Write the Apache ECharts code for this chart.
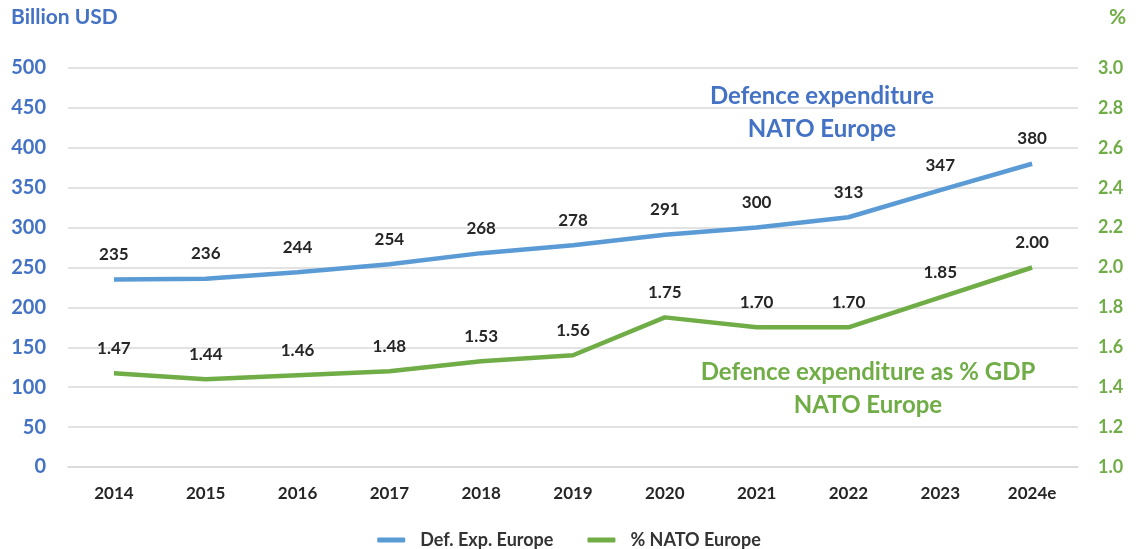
<!DOCTYPE html>
<html><head><meta charset="utf-8">
<script src="https://cdn.jsdelivr.net/npm/echarts@6/dist/echarts.min.js"></script>
<style>html,body{margin:0;padding:0;background:#fff}#c{width:1138px;height:549px}</style>
</head><body><div id="c"></div>
<script>
const categories = ['2014','2015','2016','2017','2018','2019','2020','2021','2022','2023','2024e'];
const defExpEurope = [235,236,244,254,268,278,291,300,313,347,380];
const pctNatoEurope = [1.47,1.44,1.46,1.48,1.53,1.56,1.75,1.70,1.70,1.85,2.00];
const leftTicks = {min:0,max:500,interval:50};
const rightTicks = {min:1.0,max:3.0,interval:0.2};

const FONT = 'Lato, "Open Sans", sans-serif';
const BLUE_TXT = '#4472C4', GREEN = '#70AD47', BLUE = '#5B9BD5';
const chart = echarts.init(document.getElementById('c'));
chart.setOption({
  animation:false,
  textStyle:{fontFamily:FONT},
  grid:{left:68,right:60,top:68,bottom:82,outerBoundsMode:'none',containLabel:false},
  legend:{top:526,left:'center',itemWidth:28,itemHeight:5,itemGap:34,icon:'roundRect',
    textStyle:{fontFamily:FONT,fontWeight:'bold',fontSize:18,color:'#333',padding:[0,0,0,10]},
    data:[{name:'Def. Exp. Europe',itemStyle:{color:BLUE,opacity:1}},
          {name:'% NATO Europe',itemStyle:{color:GREEN,opacity:1}}]},
  xAxis:{type:'category',data:categories,boundaryGap:true,
    axisLine:{lineStyle:{color:'#D9D9D9',width:1.5}},axisTick:{show:false},
    axisLabel:{fontFamily:FONT,fontWeight:'bold',fontSize:17,color:'#262626',margin:18}},
  yAxis:[
    {type:'value',min:leftTicks.min,max:leftTicks.max,interval:leftTicks.interval,position:'left',
     axisLine:{show:false},axisTick:{show:false},
     splitLine:{lineStyle:{color:'#D9D9D9',width:1.5}},
     axisLabel:{fontFamily:FONT,fontWeight:'bold',fontSize:20,color:BLUE_TXT,margin:22}},
    {type:'value',min:rightTicks.min,max:rightTicks.max,interval:rightTicks.interval,position:'right',
     axisLine:{show:false},axisTick:{show:false},splitLine:{show:false},
     axisLabel:{fontFamily:FONT,fontWeight:'bold',fontSize:18,color:GREEN,margin:20,
       formatter:v=>v.toFixed(1)}}
  ],
  series:[
    {name:'Def. Exp. Europe',type:'line',yAxisIndex:0,data:defExpEurope,
     symbol:'circle',symbolSize:1,showSymbol:true,lineStyle:{width:4.5,color:BLUE},itemStyle:{color:BLUE,opacity:0},
     label:{show:true,position:'top',distance:16,fontFamily:FONT,fontWeight:'bold',fontSize:17,color:'#262626',opacity:1}},
    {name:'% NATO Europe',type:'line',yAxisIndex:1,data:pctNatoEurope,
     symbol:'circle',symbolSize:1,showSymbol:true,lineStyle:{width:4.5,color:GREEN},itemStyle:{color:GREEN,opacity:0},
     label:{show:true,position:'top',distance:16,fontFamily:FONT,fontWeight:'bold',fontSize:17,color:'#262626',opacity:1,
       formatter:p=>p.value.toFixed(2)}}
  ],
  graphic:[
    {type:'text',style:{text:'Billion USD',x:11,y:7,fontFamily:FONT,fontWeight:'bold',fontSize:21,fill:BLUE_TXT}},
    {type:'text',style:{text:'%',x:1109,y:7,fontFamily:FONT,fontWeight:'bold',fontSize:21,fill:GREEN}},
    {type:'text',style:{text:'Defence expenditure\nNATO Europe',x:822,y:80,align:'center',
      fontFamily:FONT,fontWeight:'bold',fontSize:24,lineHeight:33,fill:BLUE_TXT}},
    {type:'text',style:{text:'Defence expenditure as % GDP\nNATO Europe',x:868,y:356,align:'center',
      fontFamily:FONT,fontWeight:'bold',fontSize:24,lineHeight:33,fill:GREEN}}
  ]
});
</script></body></html>
